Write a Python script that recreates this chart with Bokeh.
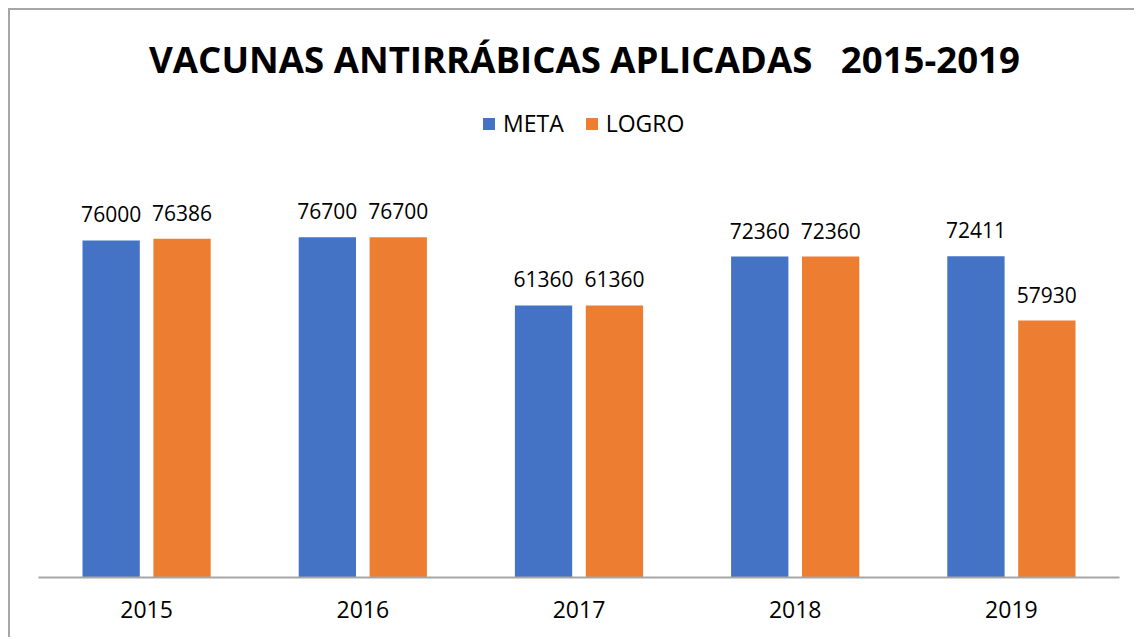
from bokeh.plotting import figure
from bokeh.models import ColumnDataSource, Range1d, FactorRange, Label, Legend, LegendItem
from bokeh.transform import dodge
from bokeh.core.properties import value
from bokeh.embed import file_html
from bokeh.resources import INLINE

years = ["2015", "2016", "2017", "2018", "2019"]
meta = [76000, 76700, 61360, 72360, 72411]
logro = [76386, 76700, 61360, 72360, 57930]
series_names = ["META", "LOGRO"]
title_text = "VACUNAS ANTIRRÁBICAS APLICADAS\u00a0\u00a0 2015-2019"

BLUE = "#4472C4"
ORANGE = "#ED7D31"
GRAY = "#A6A6A6"
FONT = "Open Sans"

src = ColumnDataSource(dict(
    year=years,
    meta=meta,
    logro=logro,
    meta_lbl=[str(v) for v in meta],
    logro_lbl=[str(v) for v in logro],
))

p = figure(
    width=1126, height=629,
    x_range=FactorRange(*years, range_padding=0),
    y_range=Range1d(0, 127850),
    output_backend="svg", toolbar_location=None,
    min_border_left=28, min_border_right=17, min_border_top=0, min_border_bottom=62,
)
p.styles = {"margin-left": "8px", "margin-top": "8px",
            "border-top": f"2px solid {GRAY}", "border-left": f"2px solid {GRAY}"}
p.outline_line_color = None
p.xgrid.visible = False
p.ygrid.visible = False
p.yaxis.visible = False

off = 0.164
w = 0.265
r1 = p.vbar(x=dodge("year", -off, range=p.x_range), top="meta", width=w, source=src,
            fill_color=BLUE, line_color=None)
r2 = p.vbar(x=dodge("year", off, range=p.x_range), top="logro", width=w, source=src,
            fill_color=ORANGE, line_color=None)

p.text(x=dodge("year", -off, range=p.x_range), y="meta", text="meta_lbl", source=src,
       text_align="center", text_baseline="alphabetic", y_offset=-26,
       text_font=value(FONT), text_font_size="21px", text_color="#000000")
p.text(x=dodge("year", off, range=p.x_range), y="logro", text="logro_lbl", source=src,
       text_align="center", text_baseline="alphabetic", y_offset=-26,
       text_font=value(FONT), text_font_size="21px", text_color="#000000")

ax = p.xaxis[0]
ax.axis_line_color = GRAY
ax.axis_line_width = 2
ax.major_tick_line_color = None
ax.minor_tick_line_color = None
ax.major_label_text_font = FONT
ax.major_label_text_font_size = "23px"
ax.major_label_text_color = "#000000"
ax.major_label_standoff = 17

p.add_layout(Label(x=546, y=519, x_units="screen", y_units="screen", text=title_text,
                   text_align="center", text_baseline="middle", text_font=FONT,
                   text_font_size="36.6px", text_font_style="bold", text_color="#000000"))

legend = Legend(items=[LegendItem(label=series_names[0], renderers=[r1]),
                       LegendItem(label=series_names[1], renderers=[r2])],
                orientation="horizontal", location=(443, 438),
                glyph_width=15, glyph_height=15, label_standoff=7, spacing=20,
                padding=0, margin=0, border_line_color=None, background_fill_alpha=0,
                label_text_font=FONT, label_text_font_size="23px", label_text_color="#000000",
                label_height=20)
p.add_layout(legend)

open("out.html", "w").write(file_html(p, INLINE))
